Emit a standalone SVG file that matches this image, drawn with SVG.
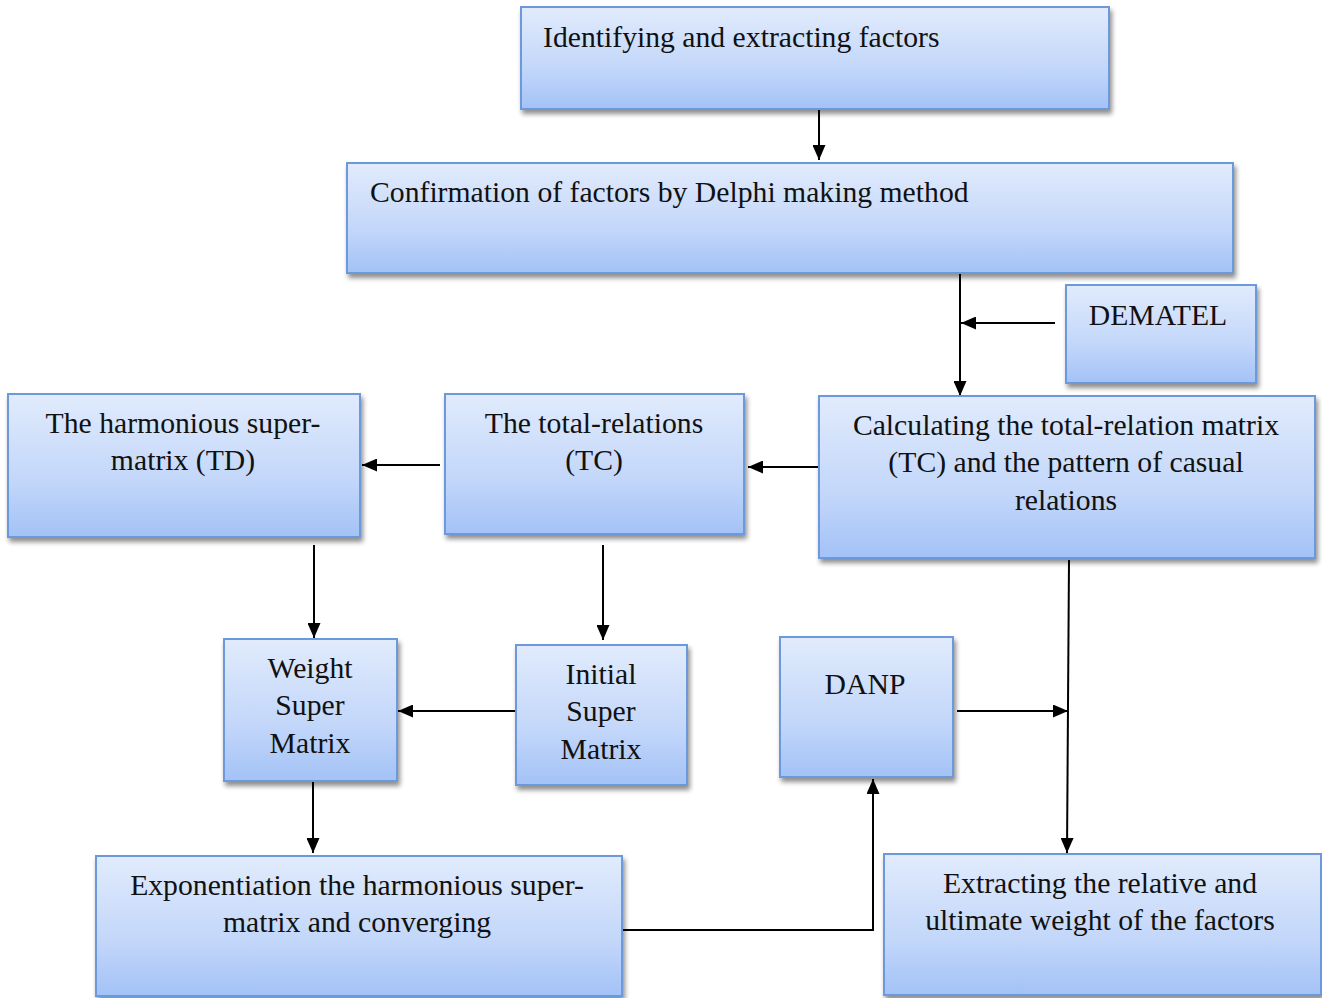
<svg xmlns="http://www.w3.org/2000/svg" width="1322" height="998" viewBox="0 0 1322 998">
<defs>
<linearGradient id="g" x1="0" y1="0" x2="0" y2="1">
<stop offset="0" stop-color="#e1ebfc"/>
<stop offset="0.6" stop-color="#c3d7fa"/>
<stop offset="1" stop-color="#a3c2f6"/>
</linearGradient>
<filter id="sh" x="-5%" y="-5%" width="115%" height="125%">
<feGaussianBlur in="SourceAlpha" stdDeviation="2.5"/>
<feOffset dx="2" dy="4" result="b"/>
<feComponentTransfer><feFuncA type="linear" slope="0.45"/></feComponentTransfer>
<feMerge><feMergeNode/><feMergeNode in="SourceGraphic"/></feMerge>
</filter>
<marker id="ah" viewBox="0 0 15 13" refX="15" refY="6.5" markerWidth="15" markerHeight="13" markerUnits="userSpaceOnUse" orient="auto">
<path d="M0,0 L15,6.5 L0,13 Z" fill="#000"/>
</marker>
</defs>
<style>
.box{fill:url(#g);stroke:#6c98dc;stroke-width:2;filter:url(#sh)}
.t{font-family:"Liberation Serif","Times New Roman",serif;font-size:29.7px;fill:#111}
.c{text-anchor:middle}
.ln{fill:none;stroke:#000;stroke-width:2}
.ar{marker-end:url(#ah)}
</style>
<rect width="1322" height="998" fill="#fff"/>
<g id="connectors">
<line class="ln ar" x1="819" y1="110" x2="819" y2="160"/>
<line class="ln ar" x1="960" y1="273" x2="960" y2="396"/>
<line class="ln ar" x1="1055" y1="323" x2="961" y2="323"/>
<line class="ln ar" x1="819" y1="467" x2="748" y2="467"/>
<line class="ln ar" x1="440" y1="465" x2="362" y2="465"/>
<line class="ln ar" x1="314" y1="545" x2="314" y2="638"/>
<line class="ln ar" x1="603" y1="545" x2="603" y2="640"/>
<line class="ln ar" x1="516" y1="711" x2="398" y2="711"/>
<line class="ln ar" x1="313" y1="782" x2="313" y2="853"/>
<polyline class="ln ar" points="622,930 873,930 873,779"/>
<line class="ln ar" x1="957" y1="711" x2="1068" y2="711"/>
<line class="ln ar" x1="1069" y1="560" x2="1067" y2="853"/>
</g>
<g id="n1"><rect class="box" x="521" y="7" width="588" height="102"/>
<text class="t" x="543" y="47">Identifying and extracting factors</text></g>
<g id="n2"><rect class="box" x="347" y="163" width="886" height="110"/>
<text class="t" x="370" y="202">Confirmation of factors by Delphi making method</text></g>
<g id="n3"><rect class="box" x="1066" y="285" width="190" height="98"/>
<text class="t c" x="1158" y="325">DEMATEL</text></g>
<g id="n4"><rect class="box" x="819" y="396" width="496" height="162"/>
<text class="t c" x="1066" y="435">Calculating the total-relation matrix</text>
<text class="t c" x="1066" y="472">(TC) and the pattern of casual</text>
<text class="t c" x="1066" y="510">relations</text></g>
<g id="n5"><rect class="box" x="445" y="394" width="299" height="140"/>
<text class="t c" x="594" y="433">The total-relations</text>
<text class="t c" x="594" y="470">(TC)</text></g>
<g id="n6"><rect class="box" x="8" y="394" width="352" height="143"/>
<text class="t c" x="183" y="433">The harmonious super-</text>
<text class="t c" x="183" y="470">matrix (TD)</text></g>
<g id="n7"><rect class="box" x="224" y="639" width="173" height="142"/>
<text class="t c" x="310" y="678">Weight</text>
<text class="t c" x="310" y="715">Super</text>
<text class="t c" x="310" y="753">Matrix</text></g>
<g id="n8"><rect class="box" x="516" y="645" width="171" height="140"/>
<text class="t c" x="601" y="684">Initial</text>
<text class="t c" x="601" y="721">Super</text>
<text class="t c" x="601" y="759">Matrix</text></g>
<g id="n9"><rect class="box" x="780" y="637" width="173" height="140"/>
<text class="t c" x="865" y="694">DANP</text></g>
<g id="n10"><rect class="box" x="96" y="856" width="526" height="140"/>
<text class="t c" x="357" y="895">Exponentiation the harmonious super-</text>
<text class="t c" x="357" y="932">matrix and converging</text></g>
<g id="n11"><rect class="box" x="884" y="854" width="437" height="141"/>
<text class="t c" x="1100" y="893">Extracting the relative and</text>
<text class="t c" x="1100" y="930">ultimate weight of the factors</text></g>
</svg>
